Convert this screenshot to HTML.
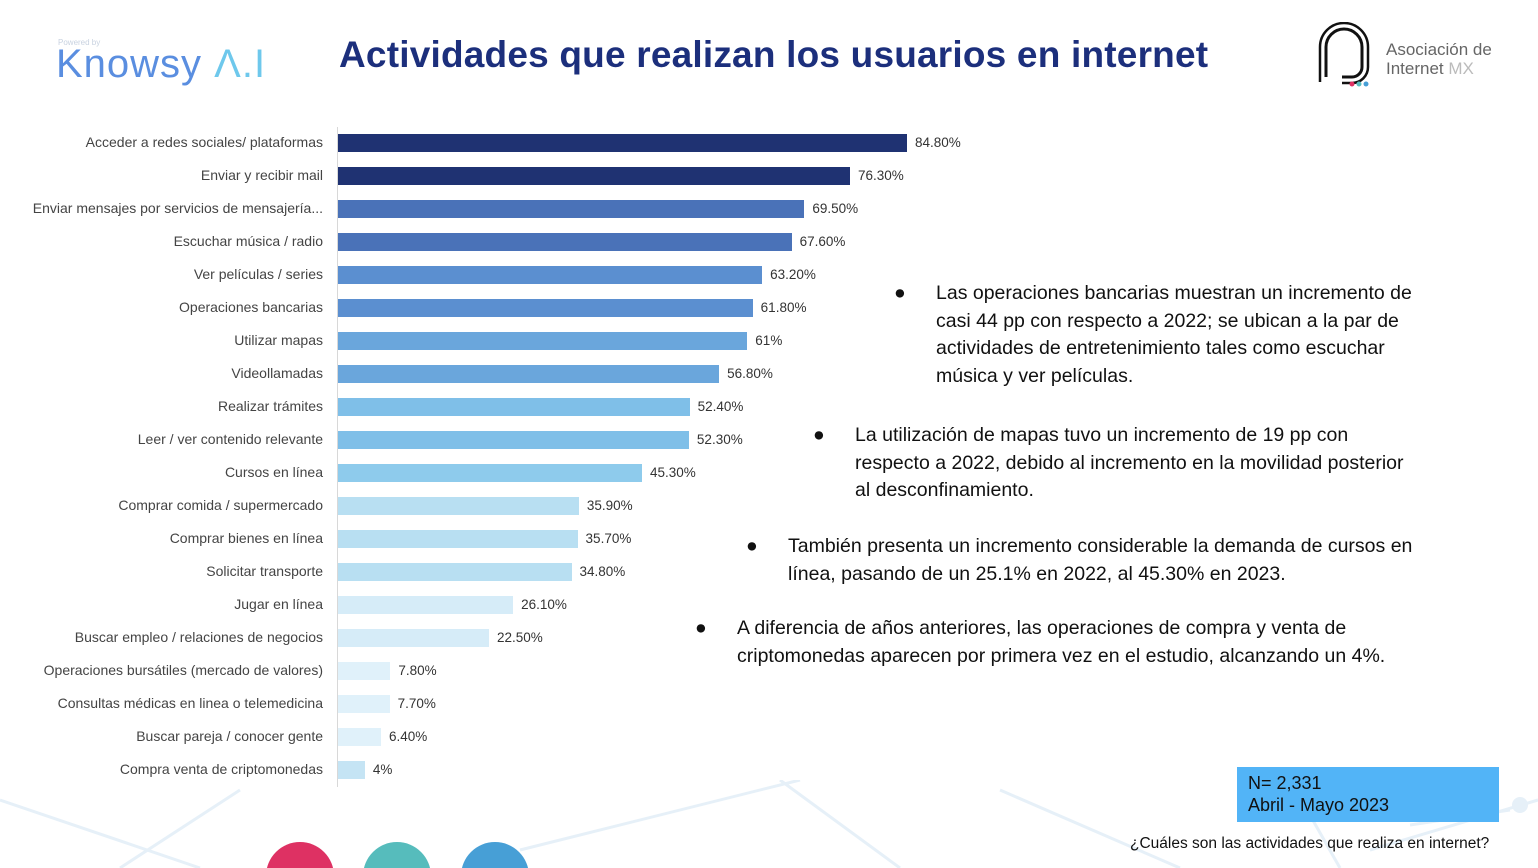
<!DOCTYPE html>
<html><head><meta charset="utf-8"><style>
html,body{margin:0;width:1538px;height:868px;overflow:hidden;background:#fff;font-family:"Liberation Sans",sans-serif;position:relative}
.abs{position:absolute}
.lbl{position:absolute;right:1215px;font-size:14px;color:#444;white-space:nowrap;line-height:18px}
.val{position:absolute;font-size:13.5px;color:#333;line-height:18px}
.bul{position:absolute;font-size:19.5px;color:#111;line-height:27.5px}
.bul span.dot{position:absolute;left:-42px;top:0}
</style></head><body>
<svg class="abs" style="left:0;top:780px" width="1538" height="88">
<g stroke="#e6f0f8" stroke-width="3" fill="none">
<line x1="0" y1="20" x2="200" y2="88"/><line x1="240" y1="10" x2="120" y2="88"/>
<line x1="520" y1="70" x2="800" y2="0"/><line x1="780" y1="0" x2="900" y2="88"/>
<line x1="1000" y1="10" x2="1180" y2="88"/><line x1="1290" y1="0" x2="1340" y2="88"/>
<line x1="1370" y1="70" x2="1538" y2="20"/><line x1="1410" y1="45" x2="1510" y2="30"/>
</g>
<circle cx="1330" cy="10" r="10" fill="#e6f0f8"/><circle cx="1520" cy="25" r="8" fill="#e6f0f8"/>
</svg>
<div class="abs" style="left:58px;top:38px;font-size:8px;color:#c8d2e0">Powered by</div>
<div class="abs" style="left:56px;top:42px;font-size:40px;color:#5a8ee0;letter-spacing:1px">Knowsy <span style="color:#6ec8ec">Λ.I</span></div>
<div class="abs" style="left:339px;top:34px;font-size:37px;letter-spacing:0.2px;font-weight:bold;color:#1c2f7c;white-space:nowrap">Actividades que realizan los usuarios en internet</div>
<svg class="abs" style="left:1314px;top:22px" width="60" height="70">
<path d="M12 55 V25 A18 18 0 0 1 48 25 V45 A10 10 0 0 1 38 55 H28" stroke="#111" stroke-width="3" fill="none"/>
<path d="M6 60 V25 A24 24 0 0 1 54 25 V45 A16 16 0 0 1 38 61 H28" stroke="#111" stroke-width="2.5" fill="none"/>
<circle cx="38" cy="62" r="2.5" fill="#de3163"/><circle cx="45" cy="62" r="2.5" fill="#56bcbc"/><circle cx="52" cy="62" r="2.5" fill="#479fd6"/>
</svg>
<div class="abs" style="left:1386px;top:40px;font-size:17px;line-height:19px;color:#666">Asociación de<br>Internet <span style="color:#bbb">MX</span></div>
<div class="abs" style="left:337px;top:127px;width:1px;height:660px;background:#d8d8d8"></div>
<div id="chart"></div>
<div class="bul" style="left:936px;top:280px;width:510px"><span class="dot">●</span>Las operaciones bancarias muestran un incremento de casi 44 pp con respecto a 2022; se ubican a la par de actividades de entretenimiento tales como escuchar música y ver películas.</div>
<div class="bul" style="left:855px;top:422px;width:560px"><span class="dot">●</span>La utilización de mapas tuvo un incremento de 19 pp con respecto a 2022, debido al incremento en la movilidad posterior al desconfinamiento.</div>
<div class="bul" style="left:788px;top:533px;width:672px"><span class="dot">●</span>También presenta un incremento considerable la demanda de cursos en línea, pasando de un 25.1% en 2022, al 45.30% en 2023.</div>
<div class="bul" style="left:737px;top:615px;width:720px"><span class="dot">●</span>A diferencia de años anteriores, las operaciones de compra y venta de criptomonedas aparecen por primera vez en el estudio, alcanzando un 4%.</div>
<div class="abs" style="left:1237px;top:767px;height:55px;background:#52b4f7;padding-left:11px;font-size:18px;line-height:22px;color:#111;box-sizing:border-box;padding-top:5px;width:262px">N= 2,331<br>Abril - Mayo 2023</div>
<div class="abs" style="left:1130px;top:835px;font-size:15.5px;color:#111">¿Cuáles son las actividades que realiza en internet?</div>
<svg class="abs" style="left:250px;top:840px" width="300" height="28">
<ellipse cx="50" cy="36" rx="34" ry="34" fill="#de3163"/>
<ellipse cx="147" cy="36" rx="34" ry="34" fill="#56bcbc"/>
<ellipse cx="245" cy="36" rx="34" ry="34" fill="#479fd6"/>
</svg>
<script>
const categories=["Acceder a redes sociales/ plataformas","Enviar y recibir mail","Enviar mensajes por servicios de mensajería...","Escuchar música / radio","Ver películas / series","Operaciones bancarias","Utilizar mapas","Videollamadas","Realizar trámites","Leer / ver contenido relevante","Cursos en línea","Comprar comida / supermercado","Comprar bienes en línea","Solicitar transporte","Jugar en línea","Buscar empleo / relaciones de negocios","Operaciones bursátiles (mercado de valores)","Consultas médicas en linea o telemedicina","Buscar pareja / conocer gente","Compra venta de criptomonedas"];
const values=[84.8,76.3,69.5,67.6,63.2,61.8,61,56.8,52.4,52.3,45.3,35.9,35.7,34.8,26.1,22.5,7.8,7.7,6.4,4];
const valueLabels=["84.80%","76.30%","69.50%","67.60%","63.20%","61.80%","61%","56.80%","52.40%","52.30%","45.30%","35.90%","35.70%","34.80%","26.10%","22.50%","7.80%","7.70%","6.40%","4%"];
const colors=["#1f3272","#1f3272","#4a72b8","#4a72b8","#5b8fd0","#5b8fd0","#6aa6dc","#6aa6dc","#7fbfe8","#7fbfe8","#8ecbec","#b8dff2","#b8dff2","#b8dff2","#d6ecf8","#d6ecf8","#e0f1fa","#e0f1fa","#e0f1fa","#c5e4f4"];
const x0=338,pxPer=6.71,y0=143,step=33,bh=18;
const xs=v=>v*pxPer, ys=i=>y0+i*step;
const c=document.getElementById('chart');
categories.forEach((cat,i)=>{
 const l=document.createElement('div');l.className='lbl';l.style.top=(ys(i)-10)+'px';l.textContent=cat;
 
 
 c.appendChild(l);
 const b=document.createElement('div');b.className='abs';
 b.style.cssText=`left:${x0}px;top:${ys(i)-bh/2}px;width:${xs(values[i])}px;height:${bh}px;background:${colors[i]}`;
 
 
 c.appendChild(b);
 const v=document.createElement('div');v.className='val';v.style.left=(x0+xs(values[i])+8)+'px';v.style.top=(ys(i)-9)+'px';v.textContent=valueLabels[i];
 
 
 c.appendChild(v);
});
</script>
</body></html>
